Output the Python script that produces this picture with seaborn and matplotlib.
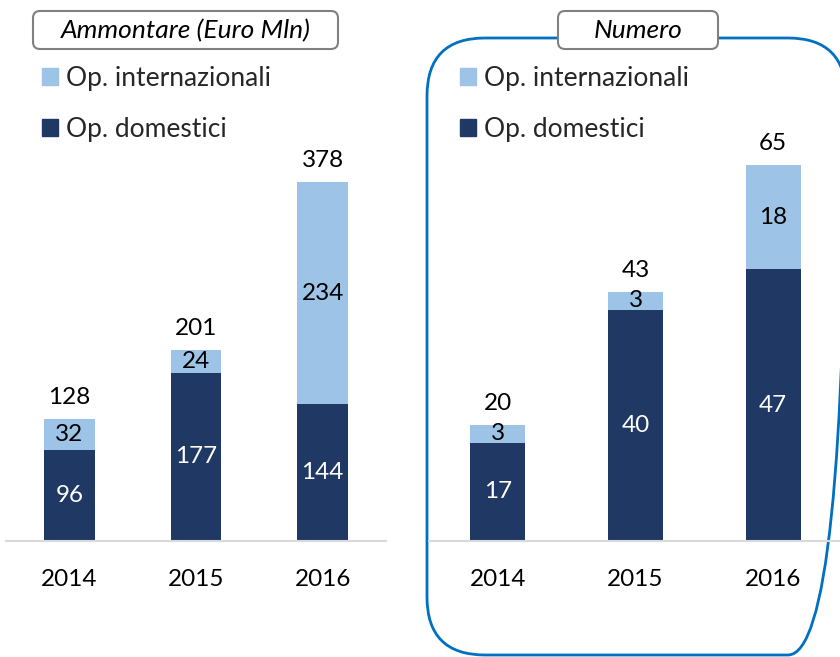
import matplotlib
matplotlib.use('Agg')

import seaborn as sns
import matplotlib.pyplot as plt
import pandas as pd
from matplotlib.patches import FancyBboxPatch, Patch

# dati
anni = ['2014', '2015', '2016']
amm_domestici = [96, 177, 144]
amm_internazionali = [32, 24, 234]
num_domestici = [17, 40, 47]
num_internazionali = [3, 3, 18]

COL_INT = '#9DC3E6'
COL_DOM = '#203864'

sns.set_theme(style='white')
plt.rcParams['font.family'] = ['Lato', 'DejaVu Sans']

W, H = 840, 657
fig = plt.figure(figsize=(8.4, 6.57), dpi=100)


def px_axes(x0, x1, y_top, y_base):
    # converte pixel -> coordinate figura
    return fig.add_axes([x0 / W, (H - y_base) / H, (x1 - x0) / W, (y_base - y_top) / H])


def pannello(ax, domestici, internazionali, ymax):
    totali = [d + i for d, i in zip(domestici, internazionali)]
    df = pd.DataFrame({'anno': anni, 'dom': domestici, 'int': internazionali, 'tot': totali})
    sns.barplot(data=df, x='anno', y='tot', color=COL_INT, width=0.4, ax=ax,
                saturation=1, edgecolor='none')
    sns.barplot(data=df, x='anno', y='dom', color=COL_DOM, width=0.4, ax=ax,
                saturation=1, edgecolor='none')
    ax.set_ylim(0, ymax)
    ax.set_xlim(-0.5, 2.5)
    for k in range(len(anni)):
        ax.text(k, domestici[k] / 2, str(domestici[k]), ha='center', va='center',
                color='white', fontsize=17.5)
        ax.text(k, domestici[k] + internazionali[k] / 2, str(internazionali[k]),
                ha='center', va='center', color='black', fontsize=17.5)
        ax.annotate(str(totali[k]), (k, totali[k]), xytext=(0, 8), textcoords='offset points',
                    ha='center', va='bottom', fontsize=17.5, color='black')
    ax.set_xlabel('')
    ax.set_ylabel('')
    ax.set_yticks([])
    ax.tick_params(axis='x', length=0, labelsize=17.5, pad=20, colors='black')
    for s in ['top', 'right', 'left']:
        ax.spines[s].set_visible(False)
    ax.spines['bottom'].set_color('#D9D9D9')
    ax.spines['bottom'].set_linewidth(1.5)
    ax.patch.set_alpha(0)


# overlay in pixel per cornice e riquadri titolo
ov = fig.add_axes([0, 0, 1, 1])
ov.set_xlim(0, W)
ov.set_ylim(H, 0)
ov.axis('off')
ov.add_patch(FancyBboxPatch((427, 38), 419, 617,
                            boxstyle='round,pad=0,rounding_size=58',
                            fc='none', ec='#0070C0', lw=2))

ax1 = px_axes(6, 386, 60, 541)
pannello(ax1, amm_domestici, amm_internazionali, 481 / 0.95)

ax2 = px_axes(429, 842, 60, 541)
pannello(ax2, num_domestici, num_internazionali, 481 / 5.785)

top = fig.add_axes([0, 0, 1, 1])
top.set_xlim(0, W)
top.set_ylim(H, 0)
top.axis('off')
top.patch.set_alpha(0)
for (x0, x1, testo) in [(33, 338, 'Ammontare (Euro Mln)'), (558, 718, 'Numero')]:
    top.add_patch(FancyBboxPatch((x0, 11), x1 - x0, 38,
                                 boxstyle='round,pad=0,rounding_size=7',
                                 fc='white', ec='#808080', lw=1.5, zorder=3))
    top.text((x0 + x1) / 2, 31, testo, ha='center', va='center', style='italic',
             fontsize=19, color='black', zorder=4)

handles = [Patch(color=COL_INT, label='Op. internazionali'),
           Patch(color=COL_DOM, label='Op. domestici')]
for x_leg in [42, 460]:
    fig.legend(handles=handles, loc='upper left',
               bbox_to_anchor=(x_leg / W, 1 - 66 / H), frameon=False,
               fontsize=19, handlelength=0.6, handleheight=0.6,
               handletextpad=0.3, labelspacing=0.97, borderaxespad=0,
               borderpad=0)

fig.savefig('out.png', dpi=100)
plt.close('all')
